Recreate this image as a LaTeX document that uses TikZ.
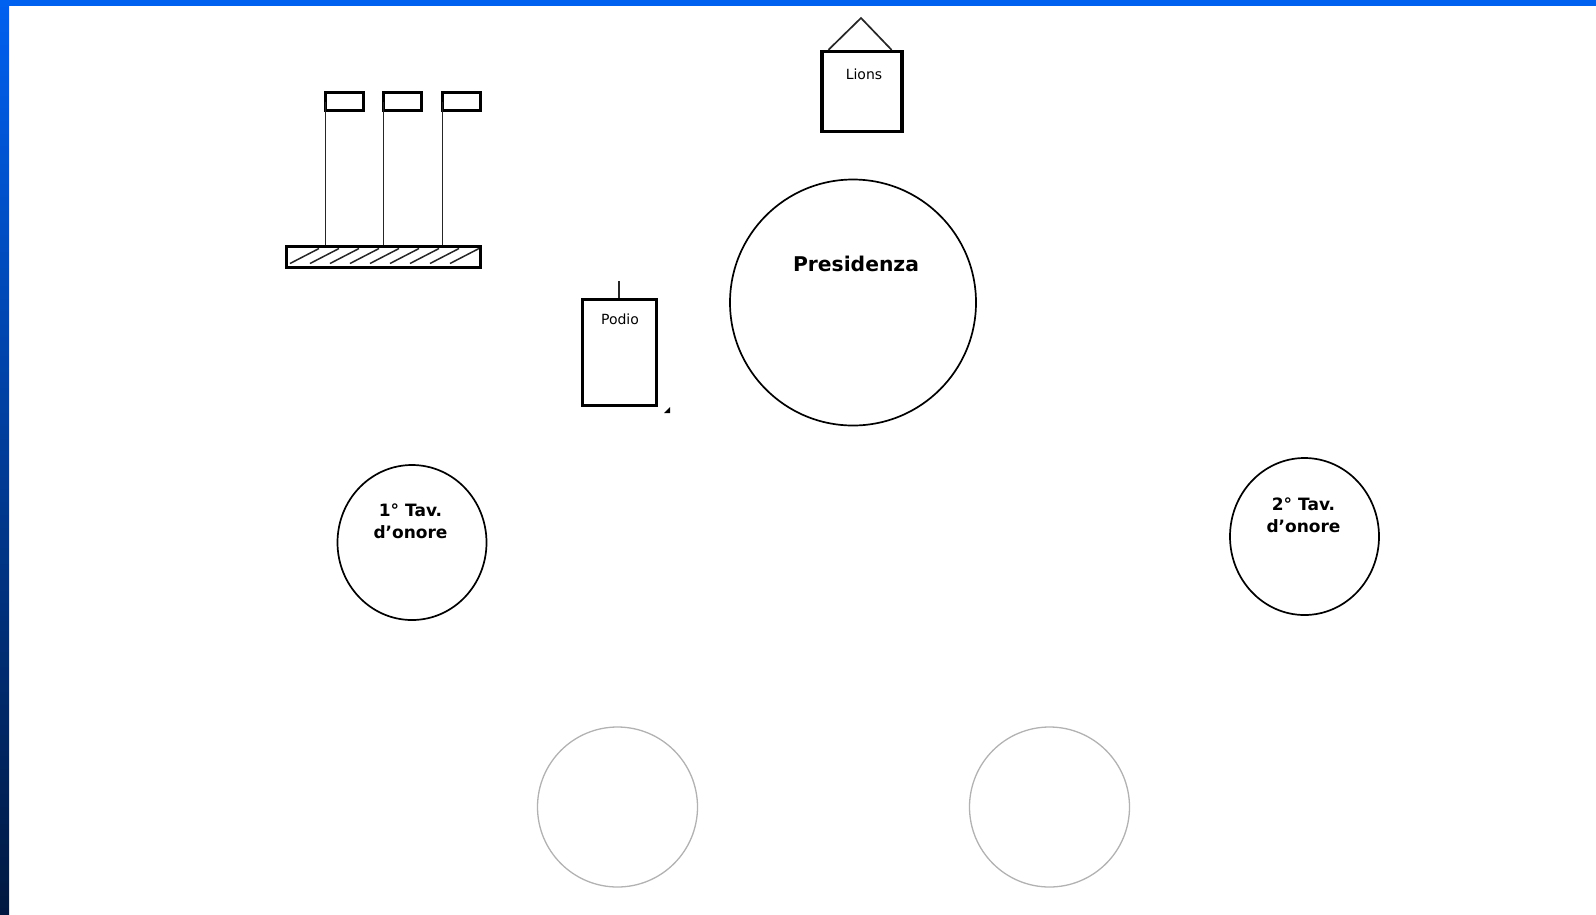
\documentclass[tikz,border=0pt]{standalone}
\usepackage{fontspec}
\setmainfont{DejaVu Sans}
\usepackage{xcolor}
\usetikzlibrary{shapes.geometric,calc}
\definecolor{slideBlue}{RGB}{0,96,240}
\definecolor{slideDark}{RGB}{0,24,64}
\colorlet{tableGray}{black!30}
\tikzset{
  flagbox/.style={
    draw=black,
    fill=white,
    line width=3pt,
    outer sep=0pt,
    minimum width=38pt,
    minimum height=18pt,
    inner sep=0pt
  },
  basebox/.style={
    draw=black,
    line width=3pt,
    minimum width=194pt,
    minimum height=21pt,
    inner sep=0pt
  },
  wallbox/.style={
    draw=black,
    fill=white,
    line width=3.2pt,
    inner sep=0pt
  },
  pole/.style={
    draw=black!85,
    line width=1.7pt
  },
  tablecircle/.style={
    ellipse,
    draw=black,
    line width=1.7pt,
    inner sep=0pt
  },
  emptytable/.style={
    circle,
    draw=tableGray,
    line width=1.3pt,
    minimum size=160pt,
    inner sep=0pt
  },
  smalllab/.style={
    font=\fontsize{14}{15}\selectfont,
    text=black,
    inner sep=0pt
  },
  tablelab/.style={
    font=\fontsize{17}{22}\selectfont\bfseries,
    align=center,
    inner sep=0pt
  }
}
\begin{document}
\begin{tikzpicture}[x=1pt,y=-1pt]
\useasboundingbox (0,0) rectangle (1596,914);

% slide frame
\fill[slideBlue] (0,0) rectangle (1596,6);
\shade[top color=slideBlue,bottom color=slideDark] (0,0) rectangle (9,914);

% flags on their base
\node[basebox] (base) at (383.5,257) {};
\foreach \i/\x in {1/344.5,2/402.5,3/461.5}{
  \node[flagbox] (flag\i) at (\x,101.5) {};
  \draw[pole] (flag\i.west) -- (flag\i.west |- base.north);
}
\begin{scope}
  \clip (base.south west) rectangle (base.north east);
  \foreach \x in {290,310,...,450}{
    \draw[black!85,line width=1.5pt] (\x,263.5) -- ++(29,-15);
  }
\end{scope}

% plaque
\node[wallbox, minimum width=80pt, minimum height=80pt] (plaque) at (862,91.5) {};
\coordinate (apex) at (861,18);
\draw[pole] ($(plaque.north west)+(8,0)$) -- (apex) -- ($(plaque.north east)+(-12,0)$);
\node[smalllab] (lions) at (864,74) {Lions};

% lectern
\node[wallbox, minimum width=73.5pt, minimum height=106pt] (podio) at (619.5,352.5) {};
\coordinate (podiotop) at (619,281);
\draw[pole] (podiotop) -- (podiotop |- podio.north);
\node[smalllab] (podiolab) at (620,319) {Podio};
\fill[black] (670,407) -- (670,413) -- (664,413) -- cycle;

% tables
\node[tablecircle, minimum width=246pt, minimum height=246pt] (pres) at (853,302.5) {};
\node[tablelab, font=\fontsize{20.3}{22}\selectfont\bfseries] (preslab) at (856,264) {Presidenza};
\node[tablecircle, minimum width=149pt, minimum height=155pt] (tav1) at (412,542.5) {};
\node[tablelab] (tav1lab) at (410.5,521) {1° Tav.\\d’onore};
\node[tablecircle, minimum width=149pt, minimum height=157pt] (tav2) at (1304.5,536.5) {};
\node[tablelab] (tav2lab) at (1303.5,515) {2° Tav.\\d’onore};
\node[emptytable] (tav3) at (617.5,807) {};
\node[emptytable] (tav4) at (1049.5,807) {};

\end{tikzpicture}
\end{document}
